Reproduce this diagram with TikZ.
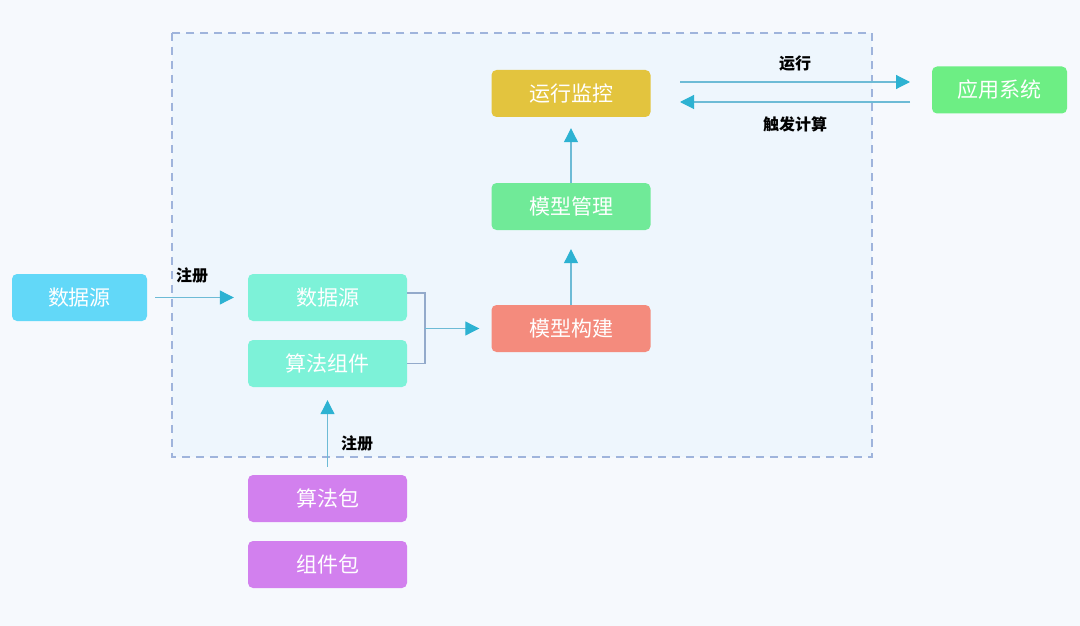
\documentclass[tikz,border=0pt]{standalone}
\usepackage{fontspec}
\setmainfont{Noto Sans CJK SC}
\usetikzlibrary{arrows.meta}
\definecolor{bgc}{HTML}{F6F9FD}
\definecolor{inbg}{HTML}{EEF6FD}
\definecolor{dashc}{HTML}{9FB4DC}
\definecolor{srcblue}{HTML}{62D8F8}
\definecolor{mint}{HTML}{7DF2D8}
\definecolor{salmon}{HTML}{F48B7D}
\definecolor{mgreen}{HTML}{70EA98}
\definecolor{gold}{HTML}{E3C43E}
\definecolor{appgreen}{HTML}{6DEE84}
\definecolor{purp}{HTML}{D280EE}
\definecolor{arrc}{HTML}{2DB2D2}
\definecolor{linec}{HTML}{6DBBD6}
\definecolor{brk}{HTML}{93AACB}
\tikzset{
  x=1pt,y=-1pt,
  box/.style={rounded corners=5pt, minimum height=47pt, inner sep=0pt, text=white, font=\fontsize{21}{21}\selectfont},
  wbox/.style={box, minimum width=159pt},
  sbox/.style={box, minimum width=135pt},
  conn/.style={draw=linec, line width=1.1pt, -{Triangle[length=14pt,width=14pt,fill=arrc,color=arrc]}},
  lbl/.style={font=\fontsize{16}{16}\selectfont\bfseries, text=black, inner sep=0pt},
}
\begin{document}
\begin{tikzpicture}
\fill[bgc] (0,0) rectangle (1080,626);
\useasboundingbox (0,0) rectangle (1080,626);
\draw[dashc, fill=inbg, line width=1.1pt, dash pattern=on 8pt off 6pt] (172,33) rectangle (872,457);

\node[sbox, fill=srcblue] (src) at (79.5,297.5) {数据源};
\node[wbox, fill=mint] (ds) at (327.5,297.5) {数据源};
\node[wbox, fill=mint] (alg) at (327.5,363.5) {算法组件};
\node[wbox, fill=salmon] (build) at (571,328.5) {模型构建};
\node[wbox, fill=mgreen] (mgmt) at (571,206.5) {模型管理};
\node[wbox, fill=gold] (mon) at (571,93.5) {运行监控};
\node[sbox, fill=appgreen] (app) at (999.5,90) {应用系统};
\node[wbox, fill=purp] (pkg) at (327.5,498.5) {算法包};
\node[wbox, fill=purp] (cpkg) at (327.5,564.5) {组件包};

% source registration
\draw[conn] ([xshift=8pt]src.east) -- ([xshift=-14pt]ds.west);
\node[lbl] (reg1) at (192,275) {注册};

% bracket
\coordinate (bj) at (425,328.5);
\draw[brk, line width=1.1pt] (ds.east |- 0,293) -| (bj) |- (alg.east);
\draw[conn] (bj) -- ([xshift=-12pt]build.west);

% vertical arrows
\draw[conn] (build.north) -- ([yshift=-19pt]mgmt.south);
\draw[conn] (mgmt.north) -- ([yshift=-11pt]mon.south);

% run / trigger
\coordinate (r1) at (680,82);
\coordinate (r2) at (910,82);
\coordinate (t1) at (910,102);
\coordinate (t2) at (680,102);
\draw[conn] (r1) -- (r2);
\draw[conn] (t1) -- (t2);
\node[lbl] (run) at (795,64) {运行};
\node[lbl] (trig) at (795,124) {触发计算};

% package registration
\draw[conn] ([yshift=8pt]pkg.north) -- ([yshift=-13pt]alg.south);
\node[lbl] (reg2) at (357,443) {注册};
\end{tikzpicture}
\end{document}
